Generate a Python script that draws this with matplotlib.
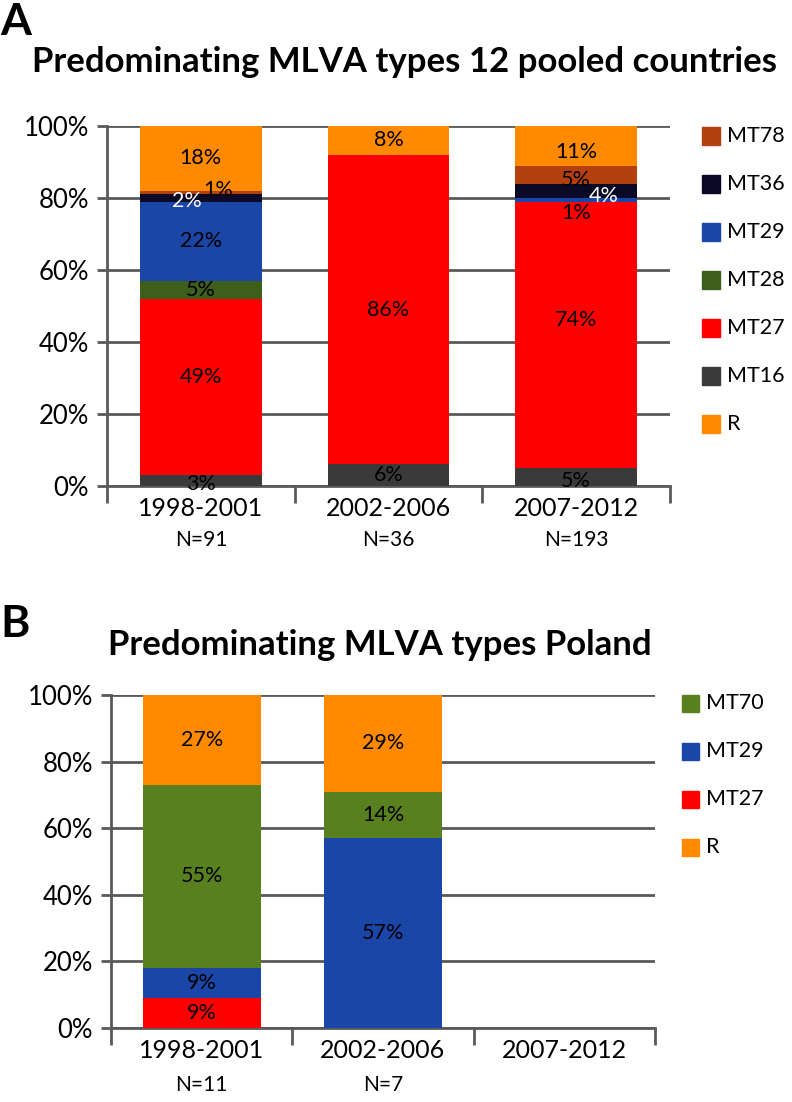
import matplotlib.pyplot as plt
import numpy as np
from matplotlib.patches import Rectangle

plt.rcParams['font.family'] = ['Lato', 'DejaVu Sans']

W, H = 792, 1102

periods = ['1998-2001', '2002-2006', '2007-2012']

# Panel A - 12 pooled countries, stacked bottom to top
a_series = ['MT16', 'MT27', 'MT28', 'MT29', 'MT36', 'MT78', 'R']
a_mt16 = [3, 6, 5]
a_mt27 = [49, 86, 74]
a_mt28 = [5, 0, 0]
a_mt29 = [22, 0, 1]
a_mt36 = [2, 0, 4]
a_mt78 = [1, 0, 5]
a_r = [18, 8, 11]
a_n = ['N=91', 'N=36', 'N=193']
a_legend = ['MT78', 'MT36', 'MT29', 'MT28', 'MT27', 'MT16', 'R']

# Panel B - Poland, stacked bottom to top
b_series = ['MT27', 'MT29', 'MT70', 'R']
b_mt27 = [9, 0, 0]
b_mt29 = [9, 57, 0]
b_mt70 = [55, 14, 0]
b_r = [27, 29, 0]
b_n = ['N=11', 'N=7', '']
b_legend = ['MT70', 'MT29', 'MT27', 'R']

colors = {'MT16': '#3a3a3a', 'MT27': '#ff0000', 'MT28': '#3e5e1b',
          'MT29': '#1a46a8', 'MT36': '#0a0a26', 'MT78': '#b5400f',
          'MT70': '#58801e', 'R': '#ff8a00'}

# label nudges in pixels (dx, dy up), Excel placed some labels off-centre
a_nudge = {(0, 'MT16'): (0, -3), (0, 'MT27'): (0, 10), (0, 'MT36'): (-14, -3),
           (0, 'MT78'): (17, 3), (2, 'MT16'): (0, -4), (2, 'MT27'): (0, 15),
           (2, 'MT29'): (0, -13), (2, 'MT36'): (28, -5), (2, 'MT78'): (0, -5),
           (2, 'R'): (0, -6)}
white_labels = ['MT36']

GRID = '#5a5a5a'


def stacked_panel(ax, series, values, nudge):
    x = np.arange(len(periods))
    bottom = np.zeros(len(periods))
    for name, vals in zip(series, values):
        vals = np.array(vals, dtype=float)
        ax.bar(x, vals, 0.65, bottom=bottom, color=colors[name], zorder=3)
        for i, v in enumerate(vals):
            if v <= 0:
                continue
            dx, dy = nudge.get((i, name), (0, 0))
            ax.annotate('{:.0f}%'.format(v), (x[i], bottom[i] + v / 2),
                        xytext=(dx * 0.72, dy * 0.72), textcoords='offset points',
                        ha='center', va='center', fontsize=15.5,
                        color='white' if name in white_labels else 'black', zorder=5)
        bottom += vals
    ax.set_xlim(-0.5, len(periods) - 0.5)
    ax.set_ylim(0, 100)
    ax.set_yticks(np.arange(0, 101, 20))
    ax.set_yticklabels(['{}%'.format(t) for t in range(0, 101, 20)], fontsize=18.5)
    ax.yaxis.grid(True, color=GRID, linewidth=2, zorder=0)
    ax.set_axisbelow(True)
    ax.tick_params(axis='y', length=7, width=2, color=GRID, pad=6)
    ax.set_xticks(x)
    ax.set_xticklabels(periods, fontsize=18)
    ax.set_xticks(np.arange(-0.5, len(periods)), minor=True)
    ax.tick_params(axis='x', which='major', length=0, pad=8)
    ax.tick_params(axis='x', which='minor', length=12, width=2, color=GRID)
    for s in ['top', 'right']:
        ax.spines[s].set_visible(False)
    for s in ['left', 'bottom']:
        ax.spines[s].set_color(GRID)
        ax.spines[s].set_linewidth(2)


def n_labels(ax, labels, off):
    for i, lab in enumerate(labels):
        ax.annotate(lab, (i, 0), xycoords=('data', 'axes fraction'),
                    xytext=(0, -off * 0.72), textcoords='offset points',
                    ha='center', va='center', fontsize=15)


def legend(names, x0, y0, step, size):
    for k, name in enumerate(names):
        yc = y0 + k * step
        fig.add_artist(Rectangle((x0 / W, 1 - (yc + size / 2) / H), size / W, size / H,
                                 transform=fig.transFigure, color=colors[name]))
        fig.text((x0 + size + 7) / W, 1 - yc / H, name, fontsize=15.5,
                 ha='left', va='center')


fig = plt.figure(figsize=(W / 100, H / 100), dpi=100)

axA = fig.add_axes([107 / W, 1 - 486 / H, (670 - 107) / W, (486 - 126) / H])
stacked_panel(axA, a_series, [a_mt16, a_mt27, a_mt28, a_mt29, a_mt36, a_mt78, a_r], a_nudge)
n_labels(axA, a_n, 54)

axB = fig.add_axes([111 / W, 1 - 1028 / H, (655 - 111) / W, (1028 - 695) / H])
stacked_panel(axB, b_series, [b_mt27, b_mt29, b_mt70, b_r], {})
n_labels(axB, b_n, 57)

fig.text(0, 1 - 35 / H, 'A', fontsize=32, fontweight='bold', va='baseline', ha='left')
fig.text(405 / W, 1 - 72 / H, 'Predominating MLVA types 12 pooled countries',
         fontsize=25, fontweight='bold', va='baseline', ha='center')
fig.text(0, 1 - 637 / H, 'B', fontsize=32, fontweight='bold', va='baseline', ha='left')
fig.text(380 / W, 1 - 655 / H, 'Predominating MLVA types Poland',
         fontsize=25, fontweight='bold', va='baseline', ha='center')

legend(a_legend, 702, 136, 48, 18)
legend(b_legend, 682, 703, 48, 17)

fig.savefig('out.png', dpi=100)
